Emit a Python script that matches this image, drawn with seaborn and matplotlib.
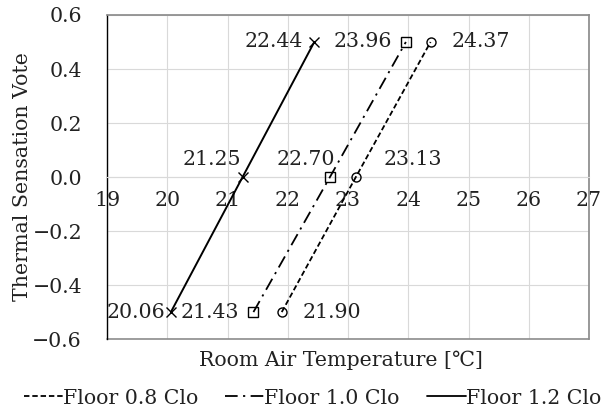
import matplotlib
matplotlib.use("Agg")
import matplotlib.pyplot as plt
from matplotlib.lines import Line2D
import seaborn as sns
import pandas as pd

# Data
series_names = ["Floor 0.8 Clo", "Floor 1.0 Clo", "Floor 1.2 Clo"]
tsv = [-0.5, 0.0, 0.5]
temp_08 = [21.90, 23.13, 24.37]
temp_10 = [21.43, 22.70, 23.96]
temp_12 = [20.06, 21.25, 22.44]
x_ticks = [19, 20, 21, 22, 23, 24, 25, 26, 27]
y_ticks = [-0.6, -0.4, -0.2, 0.0, 0.2, 0.4, 0.6]

sns.set_theme(style="white")
plt.rcParams['font.family'] = ['DejaVu Serif', 'DejaVu Sans', 'Noto Sans CJK KR']
FS = 14.8
TC = "#222222"

fig = plt.figure(figsize=(6.07, 4.13), dpi=100)
ax = fig.add_axes([0.1763, 0.179, 0.9704 - 0.1763, 0.9637 - 0.179])

styles = {
    "Floor 0.8 Clo": dict(ls=(0, (3, 1.6)), marker="o", ms=6.5, lw=1.3),
    "Floor 1.0 Clo": dict(ls=(0, (7, 3, 1.2, 3)), marker="s", ms=6.5, lw=1.3),
    "Floor 1.2 Clo": dict(ls="-", marker="x", ms=7.5, lw=1.4),
}
temps = {"Floor 0.8 Clo": temp_08, "Floor 1.0 Clo": temp_10, "Floor 1.2 Clo": temp_12}

for name in series_names:
    df = pd.DataFrame({"t": temps[name], "v": tsv})
    st = styles[name]
    sns.lineplot(data=df, x="t", y="v", ax=ax, color="black", sort=False,
                 linestyle=st["ls"], lw=st["lw"], marker=st["marker"], ms=st["ms"],
                 markerfacecolor="none", markeredgecolor="black", markeredgewidth=1.0,
                 zorder=3)

# data labels (offsets in points)
label_offsets = {
    "Floor 1.2 Clo": [((-4, 0), "right", "center"), ((-1, 6), "right", "bottom"), ((-8, 0), "right", "center")],
    "Floor 1.0 Clo": [((-10, 0), "right", "center"), ((4, 6), "right", "bottom"), ((-10, 0), "right", "center")],
    "Floor 0.8 Clo": [((15, 0), "left", "center"), ((20, 6), "left", "bottom"), ((15, 0), "left", "center")],
}
for name in series_names:
    for (t, v), (off, ha, va) in zip(zip(temps[name], tsv), label_offsets[name]):
        ax.annotate(f"{t:.2f}", (t, v), xytext=off, textcoords="offset points",
                    ha=ha, va=va, fontsize=FS, color=TC, zorder=4)

ax.set_xlim(19, 27)
ax.set_ylim(-0.6, 0.6)
ax.set_xticks(x_ticks)
ax.set_yticks(y_ticks)
ax.set_xticklabels([str(v) for v in x_ticks])
ax.set_yticklabels([("−" if v < 0 else "") + f"{abs(v):.1f}" for v in y_ticks])
ax.grid(True, color="#d9d9d9", lw=0.8)
ax.set_axisbelow(True)

grey = "#8c8c8c"
ax.spines['bottom'].set_position(('data', 0))
ax.spines['bottom'].set_color("#d9d9d9")
ax.spines['bottom'].set_linewidth(0.8)
ax.spines['top'].set_color(grey)
ax.spines['right'].set_color(grey)
ax.spines['left'].set_color("black")
ax.spines['left'].set_linewidth(1.0)
ax.axhline(-0.6, color=grey, lw=1.2, clip_on=False, zorder=1)

ax.tick_params(axis='both', length=0, labelsize=FS, colors=TC)
ax.tick_params(axis='x', pad=10)
ax.tick_params(axis='y', pad=18)

ax.set_xlabel("Room Air Temperature [℃]", fontsize=FS, color=TC)
ax.set_ylabel("Thermal Sensation Vote", fontsize=FS, color=TC)
ax.xaxis.set_label_coords(0.485, -0.035)
ax.yaxis.set_label_coords(-0.156, 0.5)

handles = [Line2D([], [], color="black", linestyle=styles[n]["ls"], lw=1.3) for n in series_names]
fig.legend(handles, series_names, loc="center", bbox_to_anchor=(0.515, 0.036), ncol=3,
           frameon=False, fontsize=FS, handlelength=1.9, handletextpad=0.0,
           columnspacing=1.3, labelcolor=TC)

fig.savefig("out.png", dpi=100)
